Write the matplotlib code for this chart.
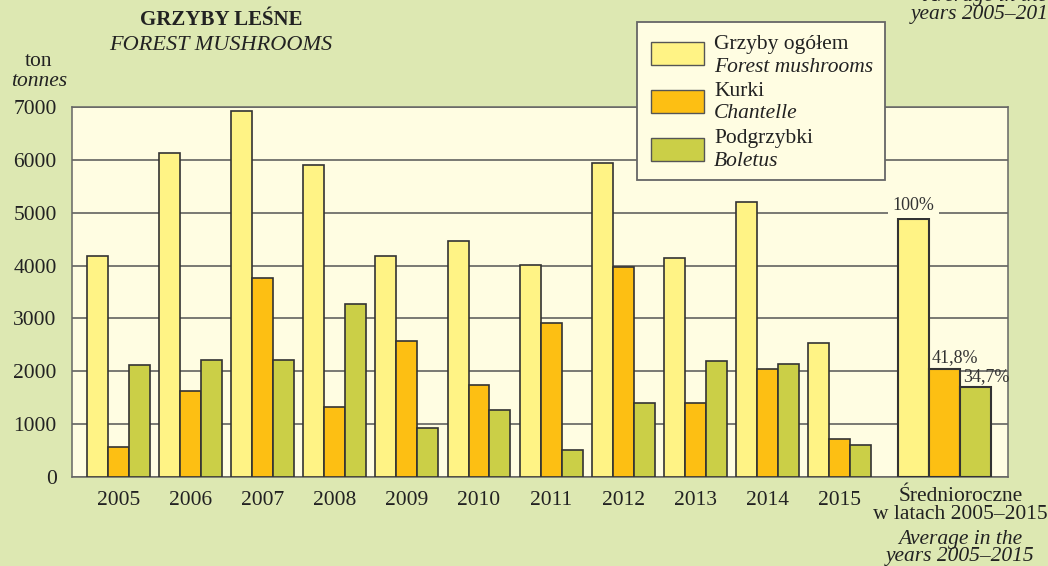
import numpy as np
import matplotlib
matplotlib.use("Agg")
import matplotlib.pyplot as plt
from matplotlib.patches import Rectangle

years = ['2005', '2006', '2007', '2008', '2009', '2010', '2011', '2012', '2013', '2014', '2015']
total = [4190, 6130, 6920, 5910, 4190, 4470, 4020, 5940, 4150, 5210, 2530]
kurki = [570, 1620, 3770, 1320, 2570, 1740, 2920, 3980, 1400, 2040, 720]
boletus = [2110, 2220, 2220, 3280, 920, 1260, 510, 1400, 2190, 2130, 600]
avg_vals = [4890, 2045, 1700]
avg_labels = ['100%', '41,8%', '34,7%']

series_names = [('Grzyby ogółem', 'Forest mushrooms'),
                ('Kurki', 'Chantelle'),
                ('Podgrzybki', 'Boletus')]
colors = ['#fff385', '#fdbf13', '#cbcf47']

BG = '#dde8b2'
PLOT_BG = '#fffde2'
EDGE = '#333333'
GRID = '#555555'
TXT = '#222222'
FS = 15.5

plt.rcParams['font.family'] = ['Liberation Serif', 'DejaVu Serif']

W, H = 1048, 566
fig = plt.figure(figsize=(W / 100, H / 100), dpi=100, facecolor=BG)
ax = fig.add_axes([72 / W, 1 - 477 / H, (1008 - 72) / W, (477 - 107) / H])
ax.set_facecolor(PLOT_BG)

x = np.arange(len(years))
bw = 0.29
for i, vals in enumerate([total, kurki, boletus]):
    ax.bar(x + (i - 1) * bw, vals, bw, color=colors[i], edgecolor=EDGE,
           linewidth=1.2, zorder=3)

# average group
avg_x = len(years) + 0.45
aw = 0.43
avg_pos = [avg_x + (i - 1) * aw for i in range(3)]
for i in range(3):
    ax.bar(avg_pos[i], avg_vals[i], aw, color=colors[i], edgecolor=EDGE,
           linewidth=1.5, zorder=3)

ax.text(avg_pos[0], avg_vals[0] + 90, avg_labels[0], ha='center', va='bottom',
        fontsize=13, color='#333333', zorder=4,
        bbox=dict(facecolor=PLOT_BG, edgecolor='none', pad=3))
ax.text(avg_pos[1] - 0.18, avg_vals[1] + 50, avg_labels[1], ha='left', va='bottom',
        fontsize=13, color='#333333', zorder=4)
ax.text(avg_pos[2] - 0.17, avg_vals[2] + 40, avg_labels[2], ha='left', va='bottom',
        fontsize=13, color='#333333', zorder=4)

ax.set_xlim(-0.64, 12.33)
ax.set_ylim(0, 7000)
ax.set_yticks(range(0, 7001, 1000))
ax.set_yticklabels([str(v) for v in range(0, 7001, 1000)], fontsize=FS, color=TXT)
ax.set_xticks(x)
ax.set_xticklabels(years, fontsize=FS, color=TXT)
ax.tick_params(axis='both', length=0)
ax.tick_params(axis='y', pad=11)
ax.tick_params(axis='x', pad=10)
ax.grid(axis='y', color=GRID, linewidth=1.1, zorder=1)
ax.set_axisbelow(True)
for s in ax.spines.values():
    s.set_color('#666666')
    s.set_linewidth(1.1)

# average category label
lab_x = avg_x + 0.22
tr = ax.get_xaxis_transform()
ax.text(lab_x, -0.027, 'Średnioroczne\nw latach 2005–2015', transform=tr,
        ha='center', va='top', fontsize=FS, color=TXT, linespacing=0.93,
        clip_on=False)
ax.text(lab_x, -0.143, 'Average in the\nyears 2005–2015', transform=tr,
        ha='center', va='top', fontsize=FS, style='italic', color=TXT,
        linespacing=0.88, clip_on=False)


def fx(px):
    return px / W


def fy(py):
    return 1 - py / H


# titles
fig.text(fx(221), fy(20), 'GRZYBY LEŚNE', ha='center', va='center',
         fontsize=15, fontweight='bold', color=TXT)
fig.text(fx(221), fy(45), 'FOREST MUSHROOMS', ha='center', va='center',
         fontsize=16, style='italic', color=TXT)
fig.text(fx(39), fy(62), 'ton', ha='center', va='center', fontsize=FS, color=TXT)
fig.text(fx(39), fy(82), 'tonnes', ha='center', va='center', fontsize=FS,
         style='italic', color=TXT)

# cut-off text in the top right corner
fig.text(fx(985), fy(-3), 'Average in the', ha='center', va='center', fontsize=FS,
         style='italic', color=TXT)
fig.text(fx(985), fy(15), 'years 2005–2015', ha='center', va='center', fontsize=FS,
         style='italic', color=TXT)

# legend box
fig.add_artist(Rectangle((fx(637), fy(180)), fx(885) - fx(637), fy(22) - fy(180),
                         transform=fig.transFigure, facecolor=PLOT_BG,
                         edgecolor='#666666', linewidth=1.3, zorder=5))
patch_y = [42, 90, 138]
text_y = [(44, 67), (91, 113), (139, 161)]
for i, (pl, en) in enumerate(series_names):
    fig.add_artist(Rectangle((fx(651), fy(patch_y[i] + 23)), fx(704) - fx(651),
                             fy(patch_y[i]) - fy(patch_y[i] + 23),
                             transform=fig.transFigure, facecolor=colors[i],
                             edgecolor='#555555', linewidth=1.0, zorder=6))
    fig.text(fx(714), fy(text_y[i][0]), pl, ha='left', va='center', fontsize=FS,
             color=TXT, zorder=7)
    fig.text(fx(714), fy(text_y[i][1]), en, ha='left', va='center', fontsize=FS,
             style='italic', color=TXT, zorder=7)

fig.savefig('out.png', dpi=100, facecolor=BG)
